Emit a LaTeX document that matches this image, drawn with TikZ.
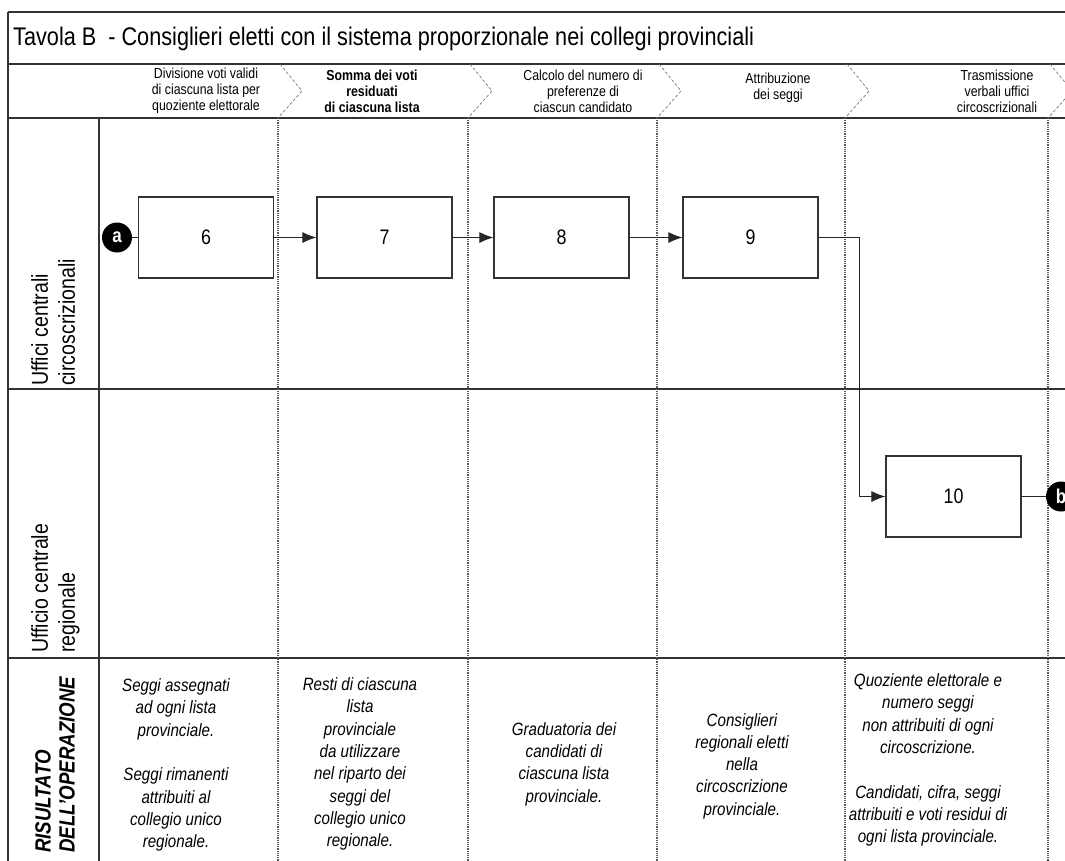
\documentclass[tikz,border=0pt]{standalone}
\usepackage{fontspec}
\setmainfont{Liberation Sans}[FakeStretch=0.85]
\usetikzlibrary{arrows.meta}

\begin{document}
\begin{tikzpicture}[x=1pt,y=1pt]
\tikzstyle{every node}+=[inner sep=0pt]
\tikzstyle{frame}=[draw=black!80,line width=1.6pt]
\tikzstyle{colline}=[black!65,densely dotted,line width=1.2pt]
\tikzstyle{chev}=[black!60,densely dashed,line width=0.6pt]
\tikzstyle{task}=[draw=black!80,line width=1.2pt,minimum width=135pt,minimum height=81pt,font=\fontsize{21}{24}\selectfont]
\tikzstyle{flow}=[black!85,line width=1pt,-{Latex[length=14pt,width=11pt]}]
\tikzstyle{plain}=[black!85,line width=1pt]
\tikzstyle{link}=[circle,fill=black,minimum size=30pt,text=white,font=\bfseries\fontsize{20}{20}\selectfont]
\tikzstyle{head}=[align=center,font=\fontsize{14.5}{16}\selectfont]
\tikzstyle{result}=[align=center,font=\itshape\fontsize{17.8}{22.3}\selectfont]
\tikzstyle{role}=[rotate=90,anchor=north west,align=left,font=\fontsize{23}{27}\selectfont]
\clip (0,0) rectangle (1065,-860);
% frame and lanes
\draw [frame] (8,-12) -- (1075,-12);
\draw [frame] (8,-12) -- (8,-870);
\draw [frame] (8,-64) -- (1075,-64);
\draw [frame] (8,-118) -- (1075,-118);
\draw [frame] (99,-118) -- (99,-870);
\draw [frame] (8,-389) -- (1075,-389);
\draw [frame] (8,-658) -- (1075,-658);
% phase separators
\draw [chev] (280,-64) -- (302,-91) -- (278,-118);
\draw [chev] (470,-64) -- (492,-91) -- (468,-118);
\draw [chev] (659,-64) -- (681,-91) -- (657,-118);
\draw [chev] (847,-64) -- (869,-91) -- (845,-118);
\draw [chev] (1050,-64) -- (1072,-91) -- (1048,-118);
\draw [colline] (278,-118) -- (278,-870);
\draw [colline] (468,-118) -- (468,-870);
\draw [colline] (657,-118) -- (657,-870);
\draw [colline] (845,-118) -- (845,-870);
\draw [colline] (1048,-118) -- (1048,-870);
% title and phases
\node (title) [anchor=base west,font=\fontsize{25.5}{30}\selectfont] at (13,-45) {Tavola B\ \ - Consiglieri eletti con il sistema proporzionale nei collegi provinciali};
\node (h1) [head] at (206,-91) {Divisione voti validi\\di ciascuna lista per\\quoziente elettorale};
\node (h2) [head,font=\bfseries\fontsize{14.5}{16}\selectfont] at (372,-91) {Somma dei voti\\residuati\\di ciascuna lista};
\node (h3) [head] at (583,-91) {Calcolo del numero di\\preferenze di\\ciascun candidato};
\node (h4) [head] at (778,-88) {Attribuzione\\dei seggi};
\node (h5) [head] at (997,-91) {Trasmissione\\verbali uffici\\circoscrizionali};
% lane labels
\node (lane1) [role] at (31,-386) {Uffici centrali\\circoscrizionali};
\node (lane2) [role] at (31,-653) {Ufficio centrale\\regionale};
\node (outcome) [role,font=\bfseries\itshape\fontsize{22}{24}\selectfont] at (35,-853) {RISULTATO\\DELL'OPERAZIONE};
% steps
\node (t6) [task] at (206,-237.5) {6};
\node (t7) [task] at (384.5,-237.5) {7};
\node (t8) [task] at (561.5,-237.5) {8};
\node (t9) [task] at (750.5,-237.5) {9};
\node (t10) [task] at (953.5,-496.5) {10};
\coordinate (bend) at (859,-237.5);
\draw [flow] (t6) -- (t7);
\draw [flow] (t7) -- (t8);
\draw [flow] (t8) -- (t9);
\draw [flow] (t9.east) -- (bend) |- (t10.west);
\node (a) [link] at (117,-237.5) {a};
\node (b) [link] at (1061,-496.5) {b};
\draw [plain] (a) -- (t6);
\draw [plain] (t10) -- (b);
% results
\node (r1) [result] at (176,-765) {Seggi assegnati\\ad ogni lista\\provinciale.\\[22.3pt]Seggi rimanenti\\attribuiti al\\collegio unico\\regionale.};
\node (r2) [result] at (360,-764) {Resti di ciascuna\\lista\\provinciale\\da utilizzare\\nel riparto dei\\seggi del\\collegio unico\\regionale.};
\node (r3) [result] at (564,-764) {Graduatoria dei\\candidati di\\ciascuna lista\\provinciale.};
\node (r4) [result] at (742,-766) {Consiglieri\\regionali eletti\\nella\\circoscrizione\\provinciale.};
\node (r5) [result] at (928,-760) {Quoziente elettorale e\\numero seggi\\non attribuiti di ogni\\circoscrizione.\\[22.3pt]Candidati, cifra, seggi\\attribuiti e voti residui di\\ogni lista provinciale.};
\end{tikzpicture}
\end{document}
